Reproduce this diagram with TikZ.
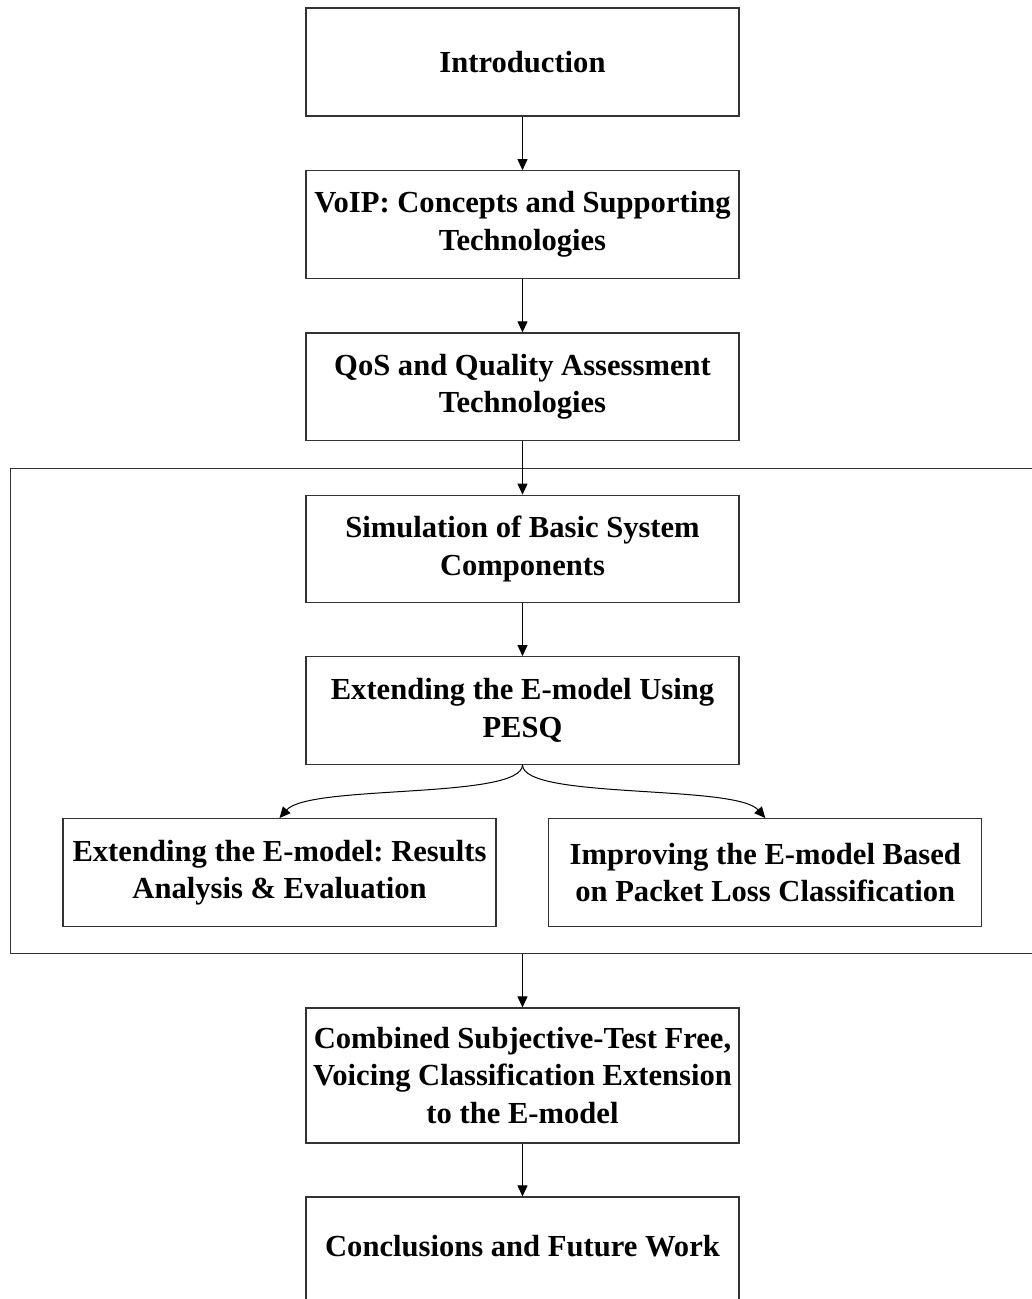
\documentclass[tikz,border=0pt]{standalone}
\usepackage{fontspec}
\setmainfont{Liberation Serif}
\usetikzlibrary{arrows.meta}
\begin{document}
\begin{tikzpicture}[x=1pt,y=-1pt,
  chapter/.style={draw=black!80, line width=1.2pt, fill=white,
    minimum width=433pt, minimum height=107.5pt, inner sep=0pt,
    align=center, font=\fontsize{30.6}{37.5}\selectfont\bfseries\frenchspacing},
  part/.style={draw=black!80, line width=1.2pt, inner sep=0pt},
  link/.style={draw=black, line width=1pt, -{Triangle[length=11pt,width=10pt]}}
]
\useasboundingbox (0,0) rectangle (1032,1299);
\clip (0,0) rectangle (1032,1299);
\fill[white] (0,0) rectangle (1032,1299);

% frame grouping the core chapters (runs off the right edge)
\node[part, minimum width=1040pt, minimum height=485.3pt, anchor=north west]
  (core) at (9.5,467.7) {};

% chapter boxes
\node[chapter, minimum height=108pt] (intro) at (522.5,62) {Introduction};
\node[chapter] (voip) at (522.5,224.5) {VoIP: Concepts and Supporting\\Technologies};
\node[chapter] (qos) at (522.5,386.7) {QoS and Quality Assessment\\Technologies};
\node[chapter] (sim) at (522.5,549) {Simulation of Basic System\\Components};
\node[chapter] (pesq) at (522.5,710.4) {Extending the E-model Using\\PESQ};
\node[chapter, minimum height=108pt] (res) at (279.5,872.6) {Extending the E-model: Results\\Analysis \& Evaluation};
\node[chapter, minimum height=108pt] (loss) at (765.3,872.6) {Improving the E-model Based\\on Packet Loss Classification};
\node[chapter, minimum height=135pt] (comb) at (522.5,1075.5) {Combined Subjective-Test Free,\\Voicing Classification Extension\\to the E-model};
\node[chapter, minimum height=130pt, text depth=32.6pt] (concl) at (522.5,1262) {Conclusions and Future Work};

% connectors
\draw[link] (intro.south) -- (voip.north);
\draw[link] (voip.south) -- (qos.north);
\draw[link] (qos.south) -- (sim.north);
\draw[link] (sim.south) -- (pesq.north);
\draw[link] (pesq.south) .. controls +(0,35) and +(30,-34) .. (res.north);
\draw[link] (pesq.south) .. controls +(0,35) and +(-30,-34) .. (loss.north);
\draw[link] (comb.north |- core.south) -- (comb.north);
\draw[link] (comb.south) -- (concl.north);
\end{tikzpicture}
\end{document}
